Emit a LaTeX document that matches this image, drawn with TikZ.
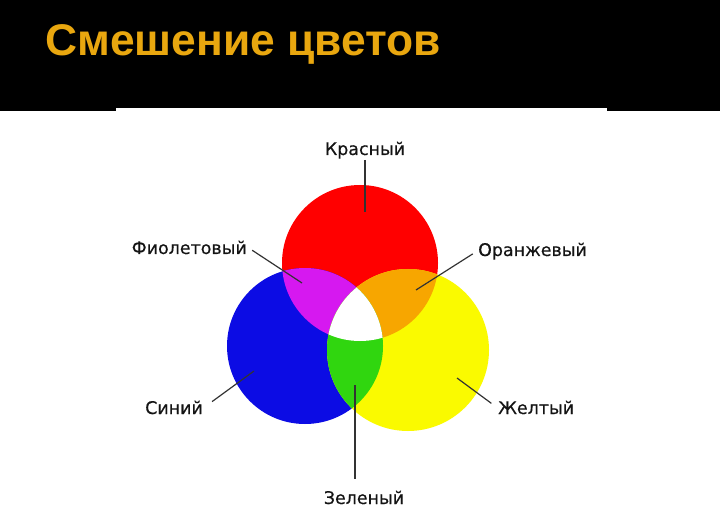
\documentclass[tikz,border=0pt]{standalone}
\usepackage{fontspec}
\setmainfont{DejaVu Sans}
\newfontfamily\titlefont{Liberation Sans}
\newfontfamily\lblfont[FakeBold=0.4]{DejaVu Sans}
\usetikzlibrary{calc}
\definecolor{titlegold}{RGB}{233,167,15}
\definecolor{mixred}{RGB}{255,0,0}
\definecolor{mixblue}{RGB}{12,12,228}
\definecolor{mixyellow}{RGB}{250,250,0}
\definecolor{mixviolet}{RGB}{214,24,240}
\definecolor{mixorange}{RGB}{247,166,0}
\definecolor{mixgreen}{RGB}{48,214,15}
\tikzset{lbl/.style={font=\lblfont\fontsize{17.5}{19}\selectfont, text=black!92, inner sep=1bp},
	ptr/.style={line width=1.2bp, draw=black!80}}

\begin{document}
\begin{tikzpicture}[x=1bp,y=-1bp]
		%%%%% START %%%%%
		
		\useasboundingbox (0,0) rectangle (720,524);
		\fill[white] (0,0) rectangle (720,524);
		\fill[black] (0,0) rectangle (720,111);
		\fill[white] (116,108) rectangle (607,111);
		
		\node[anchor=base west, inner sep=0, text=titlegold, font=\titlefont\bfseries\fontsize{44.5}{48}\selectfont] (title) at (45,56) {Смешение цветов};
		
		\coordinate (cRed) at (360,263);
		\coordinate (cBlue) at (305,346);
		\coordinate (cYel) at (408,350);
		
		\fill[mixred] (cRed) circle[radius=78bp];
		\fill[mixblue] (cBlue) circle[radius=78bp];
		\fill[mixyellow] (cYel) circle[radius=81bp];
		\begin{scope}
			\clip (cRed) circle[radius=78bp];
			\fill[mixviolet] (cBlue) circle[radius=78bp];
			\fill[mixorange] (cYel) circle[radius=81bp];
		\end{scope}
		\begin{scope}
			\clip (cBlue) circle[radius=78bp];
			\fill[mixgreen] (cYel) circle[radius=81bp];
			\clip (cRed) circle[radius=78bp];
			\fill[white] (cYel) circle[radius=81bp];
		\end{scope}
		
		\node[lbl, anchor=base] (kras) at (365,155) {Красный};
		\node[lbl, anchor=base east] (fiol) at (248,254) {Фиолетовый};
		\node[lbl, anchor=base west] (oran) at (477,256) {Оранжевый};
		\node[lbl, anchor=base east] (sin) at (204,414) {Синий};
		\node[lbl, anchor=base west] (zhelt) at (497,414) {Желтый};
		\node[lbl, anchor=base] (zel) at (364,504) {Зеленый};
		
		\coordinate (krasPt) at (365,212);
		\coordinate (fiolPt) at (302,283);
		\coordinate (oranPt) at (416,290);
		\coordinate (sinPt) at (254,371);
		\coordinate (zheltPt) at (457,378);
		\coordinate (zelPt) at (355,385);
		
		\draw[ptr] (kras) -- (krasPt);
		\draw[ptr, shorten <=5bp] (fiol.east) -- (fiolPt);
		\draw[ptr, shorten <=5bp] (oran.west) -- (oranPt);
		\draw[ptr, shorten <=10bp] (sin.east) -- (sinPt);
		\draw[ptr, shorten <=7bp] (zhelt.west) -- (zheltPt);
		\draw[ptr, shorten <=11bp] (zel.north -| zelPt) -- (zelPt);
		
		%%%%% END %%%%%
	\end{tikzpicture}
\end{document}
